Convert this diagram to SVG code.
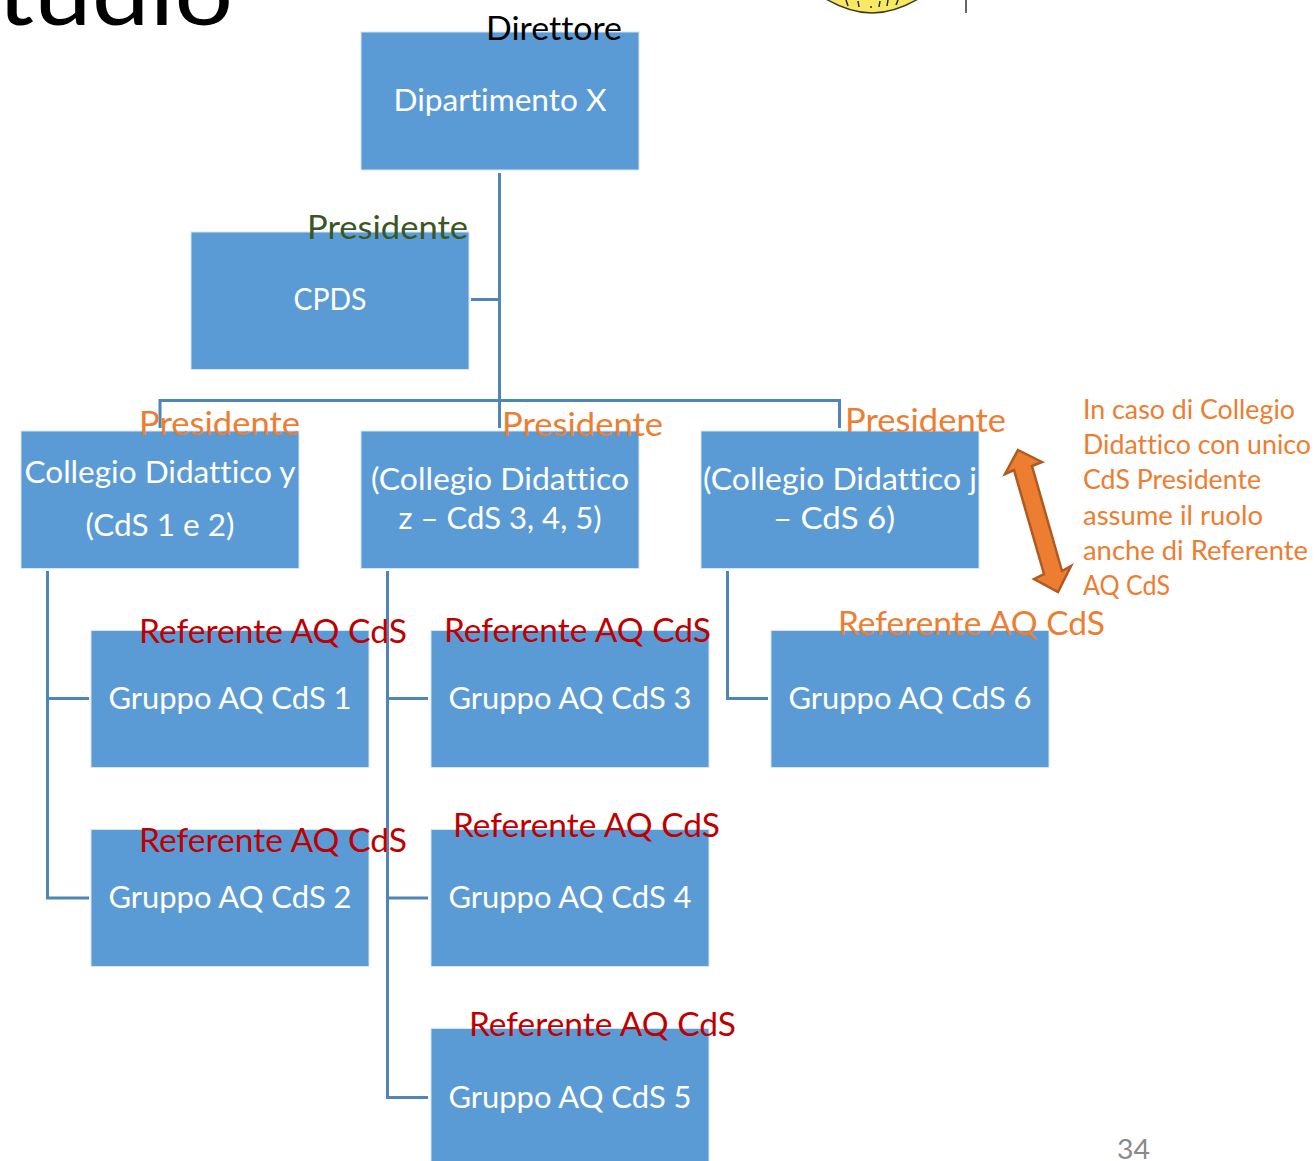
<svg xmlns="http://www.w3.org/2000/svg" width="1316" height="1161" viewBox="0 0 1316 1161">
<style>
text{font-family:Lato,"Open Sans",sans-serif;font-variant-ligatures:none}
.box{fill:#5b9bd5;stroke:#d6e4f3;stroke-width:1}
.w{fill:#fff;font-size:30px;text-anchor:middle}
.l{font-size:32px}
.o{fill:#ed7d31}
.r{fill:#c00000}
.c{fill:none;stroke:#4f86b8;stroke-width:3}
.n{fill:#ed7d31;font-size:26px}
</style>
<rect width="1316" height="1161" fill="#fff"/>
<text x="-3" y="25" font-size="92" fill="#000" textLength="236" lengthAdjust="spacingAndGlyphs">tudio</text>
<g id="logo"><path d="M826 -1Q850 13 872 13T918 -1Z" fill="#f8e964" stroke="#3a3a20" stroke-width="1.500"/><path d="M846 0L848 6M858 1L859 7M871 6V8M880 1L879 7M888 0L887 6M898 0L896 5" stroke="#2a2a1a" stroke-width="1.500"/><path d="M966 0V13" stroke="#333" stroke-width="1.500"/></g>
<g id="connectors">
<path class="c" d="M499.500 173V401M471 299.500H499.500M160 428V400.500H839.500V428M499.500 400V428"/>
<path class="c" d="M47.500 571V898H89M47.500 698.500H89"/>
<path class="c" d="M387.500 571V1097.500H428M387.500 698.500H428M387.500 898H428"/>
<path class="c" d="M727.500 571V698.500H768"/>
</g>
<g id="dipartimento"><rect class="box" x="361" y="32" width="278" height="138"/><text class="w" x="500" y="111" textLength="213" lengthAdjust="spacingAndGlyphs">Dipartimento X</text><text class="l" x="486" y="40" fill="#000" textLength="136" lengthAdjust="spacingAndGlyphs">Direttore</text></g>
<g id="cpds"><rect class="box" x="191" y="232" width="278" height="137.500"/><text class="w" x="330" y="310" textLength="73" lengthAdjust="spacingAndGlyphs">CPDS</text><text class="l" x="307" y="239" fill="#385723" textLength="161" lengthAdjust="spacingAndGlyphs">Presidente</text></g>
<g id="collegio-y"><rect class="box" x="21" y="431" width="278" height="137.500"/><text class="w" x="160" y="483" textLength="271" lengthAdjust="spacingAndGlyphs">Collegio Didattico y</text><text class="w" x="160" y="536" textLength="149" lengthAdjust="spacingAndGlyphs">(CdS 1 e 2)</text><text class="l o" x="139" y="435" textLength="161" lengthAdjust="spacingAndGlyphs">Presidente</text></g>
<g id="collegio-z"><rect class="box" x="361" y="431" width="278" height="137.500"/><text class="w" x="500" y="490" textLength="258" lengthAdjust="spacingAndGlyphs">(Collegio Didattico</text><text class="w" x="500" y="529" textLength="203" lengthAdjust="spacingAndGlyphs">z – CdS 3, 4, 5)</text><text class="l o" x="502" y="436" textLength="161" lengthAdjust="spacingAndGlyphs">Presidente</text></g>
<g id="collegio-j"><rect class="box" x="701" y="431" width="278" height="137.500"/><text class="w" x="840" y="490" textLength="274" lengthAdjust="spacingAndGlyphs">(Collegio Didattico j</text><text class="w" x="834" y="529" textLength="122" lengthAdjust="spacingAndGlyphs">– CdS 6)</text><text class="l o" x="845" y="432" textLength="161" lengthAdjust="spacingAndGlyphs">Presidente</text></g>
<g id="gruppo1"><rect class="box" x="91" y="630.500" width="278" height="137"/><text class="w" x="230" y="709" textLength="243" lengthAdjust="spacingAndGlyphs">Gruppo AQ CdS 1</text><text class="l r" x="139" y="643" textLength="268" lengthAdjust="spacingAndGlyphs">Referente AQ CdS</text></g>
<g id="gruppo2"><rect class="box" x="91" y="829.500" width="278" height="137"/><text class="w" x="230" y="908" textLength="243" lengthAdjust="spacingAndGlyphs">Gruppo AQ CdS 2</text><text class="l r" x="139" y="852" textLength="268" lengthAdjust="spacingAndGlyphs">Referente AQ CdS</text></g>
<g id="gruppo3"><rect class="box" x="431" y="630.500" width="278" height="137"/><text class="w" x="570" y="709" textLength="243" lengthAdjust="spacingAndGlyphs">Gruppo AQ CdS 3</text><text class="l r" x="444" y="642" textLength="267" lengthAdjust="spacingAndGlyphs">Referente AQ CdS</text></g>
<g id="gruppo4"><rect class="box" x="431" y="829.500" width="278" height="137"/><text class="w" x="570" y="908" textLength="243" lengthAdjust="spacingAndGlyphs">Gruppo AQ CdS 4</text><text class="l r" x="453" y="837" textLength="267" lengthAdjust="spacingAndGlyphs">Referente AQ CdS</text></g>
<g id="gruppo5"><rect class="box" x="431" y="1028.500" width="278" height="137"/><text class="w" x="570" y="1108" textLength="243" lengthAdjust="spacingAndGlyphs">Gruppo AQ CdS 5</text><text class="l r" x="469" y="1036" textLength="267" lengthAdjust="spacingAndGlyphs">Referente AQ CdS</text></g>
<g id="gruppo6"><rect class="box" x="771" y="630.500" width="278" height="137"/><text class="w" x="910" y="709" textLength="243" lengthAdjust="spacingAndGlyphs">Gruppo AQ CdS 6</text><text class="l o" x="838" y="635" textLength="267" lengthAdjust="spacingAndGlyphs">Referente AQ CdS</text></g>
<g id="nota">
<path d="M1018 450L1042 462L1032 466L1062 571L1071 566L1058 592L1034 579L1044 574L1014 470L1005 474Z" fill="#ed7d31" stroke="#ae5a21" stroke-width="2.500"/>
<text class="n" x="1083" y="419" textLength="212" lengthAdjust="spacingAndGlyphs">In caso di Collegio</text>
<text class="n" x="1083" y="454" textLength="228" lengthAdjust="spacingAndGlyphs">Didattico con unico</text>
<text class="n" x="1083" y="489" textLength="178" lengthAdjust="spacingAndGlyphs">CdS Presidente</text>
<text class="n" x="1083" y="525" textLength="180" lengthAdjust="spacingAndGlyphs">assume il ruolo</text>
<text class="n" x="1083" y="560" textLength="225" lengthAdjust="spacingAndGlyphs">anche di Referente</text>
<text class="n" x="1083" y="595" textLength="87" lengthAdjust="spacingAndGlyphs">AQ CdS</text>
</g>
<text x="1117" y="1159" font-size="27" fill="#8a8a8a" textLength="33" lengthAdjust="spacingAndGlyphs">34</text>
</svg>
